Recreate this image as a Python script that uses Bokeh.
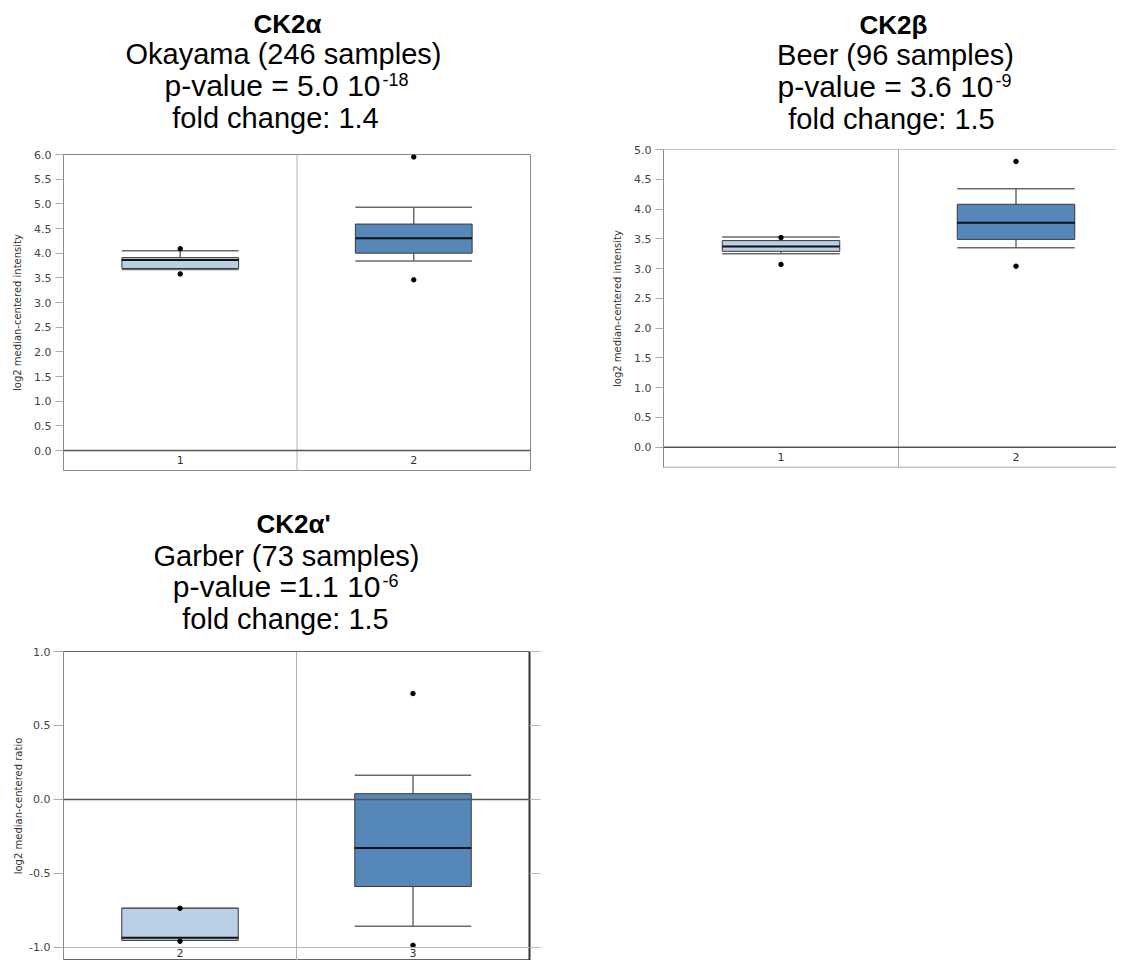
from bokeh.plotting import figure
from bokeh.layouts import column, row
from bokeh.models import Span, LinearAxis, Range1d, FixedTicker, PrintfTickFormatter
from bokeh.core.properties import value
from bokeh.embed import file_html
from bokeh.resources import INLINE

# ---------------- data ----------------
# CK2alpha - Okayama
ck2a_groups = ["1", "2"]
ck2a_lower = [3.67, 3.84]
ck2a_q1 = [3.69, 4.00]
ck2a_median = [3.86, 4.30]
ck2a_q3 = [3.91, 4.59]
ck2a_upper = [4.05, 4.93]
ck2a_out_group = [0, 0, 1, 1]
ck2a_out_value = [4.09, 3.58, 5.95, 3.46]
ck2a_ticks = [0.0, 0.5, 1.0, 1.5, 2.0, 2.5, 3.0, 3.5, 4.0, 4.5, 5.0, 5.5, 6.0]

# CK2beta - Beer
ck2b_groups = ["1", "2"]
ck2b_lower = [3.25, 3.35]
ck2b_q1 = [3.29, 3.49]
ck2b_median = [3.37, 3.77]
ck2b_q3 = [3.47, 4.08]
ck2b_upper = [3.53, 4.34]
ck2b_out_group = [0, 0, 1, 1]
ck2b_out_value = [3.52, 3.07, 4.80, 3.04]
ck2b_ticks = [0.0, 0.5, 1.0, 1.5, 2.0, 2.5, 3.0, 3.5, 4.0, 4.5, 5.0]

# CK2alpha' - Garber
ck2ap_groups = ["2", "3"]
ck2ap_lower = [-0.952, -0.856]
ck2ap_q1 = [-0.952, -0.588]
ck2ap_median = [-0.935, -0.327]
ck2ap_q3 = [-0.735, 0.039]
ck2ap_upper = [-0.735, 0.163]
ck2ap_out_group = [0, 0, 1, 1]
ck2ap_out_value = [-0.735, -0.958, 0.716, -0.985]
ck2ap_ticks = [-1.0, -0.5, 0.0, 0.5, 1.0]

# titles
ck2a_title = ["CK2α", "Okayama (246 samples)", "p-value = 5.0 10", "-18", "fold change: 1.4"]
ck2b_title = ["CK2β", "Beer (96 samples)", "p-value = 3.6 10", "-9", "fold change: 1.5"]
ck2ap_title = ["CK2α'", "Garber (73 samples)", "p-value =1.1 10", "-6", "fold change: 1.5"]

LIGHT = "#b9cfe5"
DARK = "#5587b8"
TITLE_FONT = "Liberation Sans"
AXIS_FONT = "DejaVu Sans"


def make_panel(groups, lower, q1, med, q3, upper, out_g, out_v, ticks, ylabel,
               y_start, y_end, x_end, width, height, b_left, b_right, b_top, b_bottom,
               label_y, label_size, outline=True):
    p = figure(width=width, height=height,
               x_range=Range1d(0.5, x_end), y_range=Range1d(y_start, y_end),
               x_axis_location=None, output_backend="svg", toolbar_location=None,
               min_border_left=b_left, min_border_right=b_right,
               min_border_top=b_top, min_border_bottom=b_bottom)
    p.xgrid.visible = False
    p.ygrid.visible = False
    p.background_fill_color = "white"
    p.border_fill_color = "white"
    p.outline_line_color = "#8a8a8a" if outline else None
    p.outline_line_width = 1

    ax = p.yaxis[0]
    ax.ticker = FixedTicker(ticks=ticks)
    ax.formatter = PrintfTickFormatter(format="%.1f")
    ax.axis_label = ylabel
    ax.axis_label_text_font = AXIS_FONT
    ax.axis_label_text_font_size = "10px"
    ax.axis_label_text_font_style = "normal"
    ax.axis_label_text_color = "#333333"
    ax.axis_label_standoff = 8
    ax.major_label_text_font = AXIS_FONT
    ax.major_label_text_font_size = "11px"
    ax.major_label_text_color = "#444444"
    ax.major_label_standoff = 4
    ax.major_tick_out = 8
    ax.major_tick_in = 0
    ax.major_tick_line_color = "#aaaaaa"
    ax.minor_tick_line_color = None
    ax.axis_line_color = "#8a8a8a"

    xs = [i + 1 for i in range(len(groups))]
    half = 0.25
    p.add_layout(Span(location=1.5, dimension="height", line_color="#b0b0b0", line_width=1))
    p.add_layout(Span(location=0.0, dimension="width", line_color="#555555", line_width=1.5))

    p.segment(x0=xs, y0=q3, x1=xs, y1=upper, line_color="#6a6a6a", line_width=1.5)
    p.segment(x0=xs, y0=q1, x1=xs, y1=lower, line_color="#6a6a6a", line_width=1.5)
    p.segment(x0=[x - half for x in xs], y0=upper, x1=[x + half for x in xs], y1=upper,
              line_color="#6a6a6a", line_width=1.5)
    p.segment(x0=[x - half for x in xs], y0=lower, x1=[x + half for x in xs], y1=lower,
              line_color="#6a6a6a", line_width=1.5)
    p.vbar(x=xs, width=2 * half, bottom=q1, top=q3, fill_color=[LIGHT, DARK],
           line_color="#3a3a3a", line_width=1)
    p.segment(x0=[x - half for x in xs], y0=med, x1=[x + half for x in xs], y1=med,
              line_color="#111111", line_width=2)
    p.scatter(x=[xs[g] for g in out_g], y=out_v, size=4.5, fill_color="black",
              line_color="black", marker="circle")
    p.text(x=xs, y=[label_y] * len(xs), text=groups, text_align="center",
           text_baseline="middle", text_font=value(AXIS_FONT),
           text_font_size=label_size, text_color="#333333")
    return p


def title_fig(width, height, titles, frame_left, frame_right, y0, pos):
    """The title figure's frame is aligned (by the column layout) with the plot's frame,
    so its x range is set to the frame's page x extent; y is page y minus y0.
    pos: (bold_cx, bold_by, ds_cx, ds_by, pv_right, pv_by, sup_by, fc_cx, fc_by);
    y values are text baselines."""
    f = figure(width=width, height=height, x_range=Range1d(frame_left, frame_right),
               y_range=Range1d(height, 0), x_axis_location=None, y_axis_location=None,
               output_backend="svg", toolbar_location=None,
               min_border_left=0, min_border_right=0, min_border_top=0, min_border_bottom=0)
    f.outline_line_color = None
    f.xgrid.visible = False
    f.ygrid.visible = False
    bcx, bby, dcx, dby, pvr, pvb, sby, fcx, fby = pos

    def t(txt, x, y, size, style, align):
        f.text(x=[x], y=[y - y0 - 0.31 * size], text=[txt], text_font=value(TITLE_FONT),
               text_font_size=f"{size}px", text_font_style=style, text_align=align,
               text_baseline="middle", text_color="black")

    t(titles[0], bcx, bby, 26, "bold", "center")
    t(titles[1], dcx, dby, 29, "normal", "center")
    t(titles[2], pvr, pvb, 30, "normal", "right")
    t(titles[3], pvr + 2, sby, 18, "normal", "left")
    t(titles[4], fcx, fby, 29, "normal", "center")
    return f


# ---------- panel 1 ----------
t1 = title_fig(608, 146, ck2a_title, 63, 530, 0, (287, 32, 283, 62, 380, 94, 85, 275, 126))
p1 = make_panel(ck2a_groups, ck2a_lower, ck2a_q1, ck2a_median, ck2a_q3, ck2a_upper,
                ck2a_out_group, ck2a_out_value, ck2a_ticks, "log2 median-centered intensity",
                -0.405, 6.0, 2.5, 608, 334, 63, 78, 8, 10, -0.2, "11px")

# ---------- panel 2 ----------
t2 = title_fig(508, 141, ck2b_title, 663, 1116, 0, (893, 33, 895, 63, 993, 95, 86, 891, 127))
p2 = make_panel(ck2b_groups, ck2b_lower, ck2b_q1, ck2b_median, ck2b_q3, ck2b_upper,
                ck2b_out_group, ck2b_out_value, ck2b_ticks, "log2 median-centered intensity",
                -0.341, 5.0, 0.5 + 453 / 235, 508, 339, 55, 0, 8, 13, -0.17, "11px",
                outline=False)
p2.add_layout(Span(location=5.0, dimension="width", line_color="#8a8a8a", line_width=1))
p2.add_layout(Span(location=-0.341, dimension="width", line_color="#8a8a8a", line_width=1.5))

# ---------- panel 3 ----------
t3 = title_fig(549, 163, ck2ap_title, 63, 529, 480, (293, 532, 286, 564, 380, 595, 586, 285, 627))
p3 = make_panel(ck2ap_groups, ck2ap_lower, ck2ap_q1, ck2ap_median, ck2ap_q3, ck2ap_upper,
                ck2ap_out_group, ck2ap_out_value, ck2ap_ticks, "log2 median-centered ratio",
                -1.088, 1.0, 2.5, 549, 317, 63, 20, 8, 0, -1.035, "11px")
p3.outline_line_color = "#666666"
p3.yaxis[0].major_tick_out = 10
p3.yaxis[0].major_label_standoff = 3
p3.yaxis[0].axis_label_standoff = 2
p3.add_layout(Span(location=-1.0, dimension="width", line_color="#b5b5b5", line_width=1))
rax = LinearAxis(ticker=FixedTicker(ticks=ck2ap_ticks))
rax.major_label_text_font_size = "0px"
rax.major_label_text_alpha = 0
rax.major_tick_out = 11
rax.major_tick_in = 0
rax.major_tick_line_color = "#bbbbbb"
rax.minor_tick_line_color = None
rax.axis_line_color = "#333333"
rax.axis_line_width = 2
p3.add_layout(rax, "right")

layout = column(row(column(t1, p1), column(t2, p2)), column(t3, p3))
open("out.html", "w").write(file_html(layout, INLINE))
